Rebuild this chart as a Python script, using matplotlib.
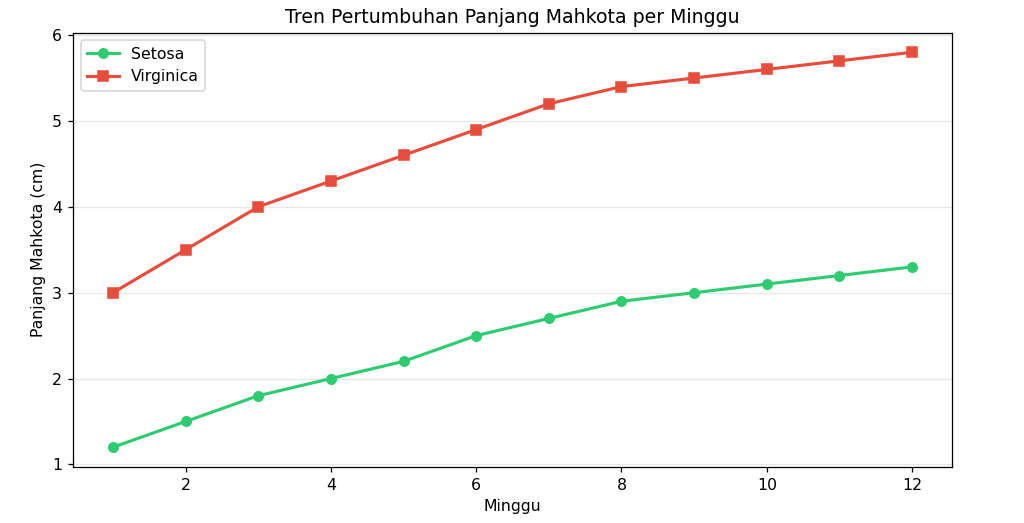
import numpy as np
import matplotlib.pyplot as plt

minggu = np.arange(1, 13)
setosa = [1.2, 1.5, 1.8, 2.0, 2.2, 2.5, 2.7, 2.9, 3.0, 3.1, 3.2, 3.3]
virginica = [3.0, 3.5, 4.0, 4.3, 4.6, 4.9, 5.2, 5.4, 5.5, 5.6, 5.7, 5.8]

dpi = 113
fig, ax = plt.subplots(figsize=(1024 / dpi, 523 / dpi), dpi=dpi)
fig.subplots_adjust(left=73 / 1024, right=952 / 1024, top=1 - 32.5 / 523, bottom=1 - 467 / 523)

ax.plot(minggu, setosa, '-o', color='#2ecc71', linewidth=2, markersize=6, label='Setosa')
ax.plot(minggu, virginica, '-s', color='#e74c3c', linewidth=2, markersize=6, label='Virginica')

ax.set_title('Tren Pertumbuhan Panjang Mahkota per Minggu')
ax.set_xlabel('Minggu')
ax.set_ylabel('Panjang Mahkota (cm)')
ax.grid(axis='y', alpha=0.3)
ax.legend(loc='upper left')

fig.savefig('out.png')
